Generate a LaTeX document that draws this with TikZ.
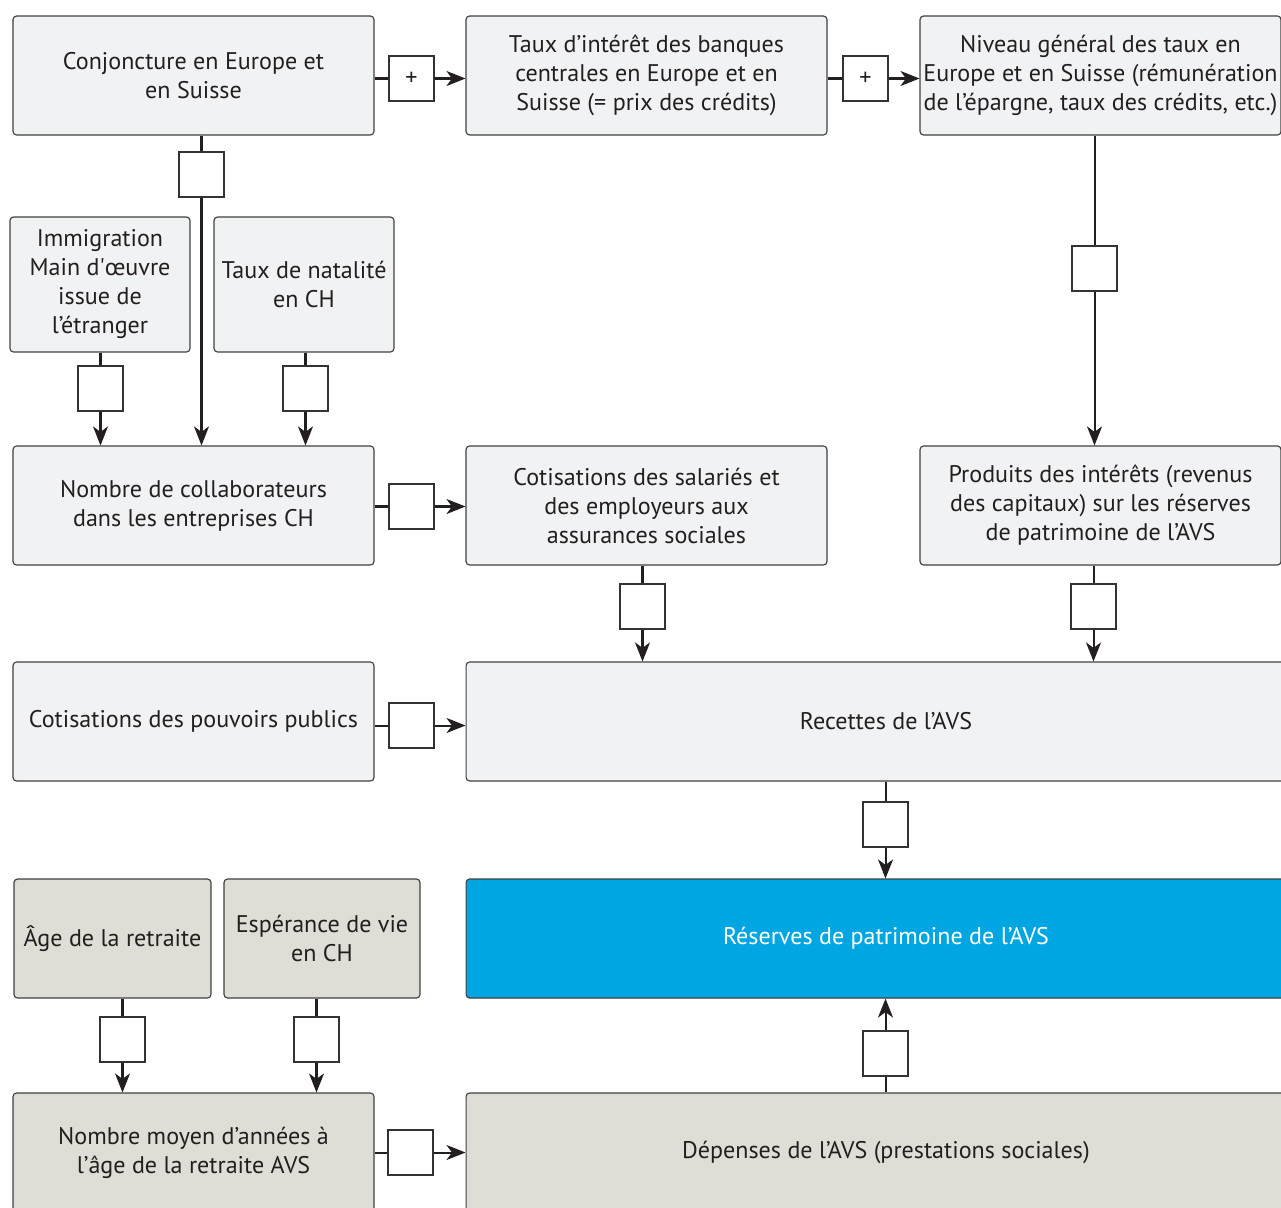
\documentclass[tikz,border=0pt]{standalone}
\usepackage{fontspec}
\setmainfont{PT Sans}
\usetikzlibrary{arrows.meta}
\usetikzlibrary{positioning}
\definecolor{hellgrau}{HTML}{F1F2F3}
\definecolor{beige}{HTML}{DEDDD6}
\definecolor{avsblau}{HTML}{00A6E2}
\definecolor{schrift}{HTML}{231F20}
\tikzset{
  kasten/.style={draw=black!75, line width=0.65pt, rounded corners=2pt, fill=hellgrau, align=center, inner sep=0pt,
    minimum width=7.22cm, minimum height=2.38cm, text=schrift, font=\fontsize{13.7}{16.5}\selectfont},
  kastenb/.style={kasten, fill=beige},
  klein/.style={draw=black!80, line width=0.65pt, fill=white, minimum size=0.9cm, inner sep=0pt, text=schrift, font=\fontsize{13.7}{15}\selectfont},
  linie/.style={line width=1.15pt, draw=schrift},
  pfeil/.style={linie, -{Stealth[length=0.38cm, width=0.3cm, inset=0.11cm]}}
}
\begin{document}
\begin{tikzpicture}[x=0.02cm, y=-0.02cm]
		\useasboundingbox (0,0) rectangle (1281,1207);
		\node[kasten] (conj) at (193.5,75.5) {Conjoncture en Europe et\\en Suisse};
		\node[kasten] (taux) at (646.5,75.5) {Taux d’intérêt des banques\\centrales en Europe et en\\Suisse (= prix des crédits)};
		\node[kasten] (niveau) at (1100.5,75.5) {Niveau général des taux en\\Europe et en Suisse (rémunération\\de l’épargne, taux des crédits, etc.)};
		\node[kasten, minimum width=3.6cm, minimum height=2.7cm] (immig) at (100,284.5) {Immigration\\Main d\textquotesingle œuvre\\issue de\\l’étranger};
		\node[kasten, minimum width=3.6cm, minimum height=2.7cm] (natal) at (304,284.5) {Taux de natalité\\en CH};
		\node[kasten] (collab) at (193.5,505.5) {Nombre de collaborateurs\\dans les entreprises CH};
		\node[kasten] (cotis) at (646.5,505.5) {Cotisations des salariés et\\des employeurs aux\\assurances sociales};
		\node[kasten] (produits) at (1100.5,505.5) {Produits des intérêts (revenus\\des capitaux) sur les réserves\\de patrimoine de l’AVS};
		\node[kasten] (pouvoirs) at (193.5,721.5) {Cotisations des pouvoirs publics};
		\node[kasten, minimum width=16.8cm] (recettes) at (886,721.5) {Recettes de l’AVS};
		\node[kastenb, minimum width=3.94cm] (age) at (112.5,938.5) {Âge de la retraite};
		\node[kastenb, minimum width=3.92cm] (esper) at (322,938.5) {Espérance de vie\\en CH};
		\node[kasten, minimum width=16.8cm, fill=avsblau, text=white] (reserves) at (886,938.5) {Réserves de patrimoine de l’AVS};
		\node[kastenb] (moyen) at (193.5,1152.5) {Nombre moyen d’années à\\l’âge de la retraite AVS};
		\node[kastenb, minimum width=16.8cm] (depenses) at (886,1152.5) {Dépenses de l’AVS (prestations sociales)};

		\node[klein] (k1) at (411.5,78.5) {+};
		\draw[linie] (conj.east |- k1) -- (k1);
		\draw[pfeil] (k1) -- (taux.west |- k1);
		\node[klein] (k2) at (865.5,78.5) {+};
		\draw[linie] (taux.east |- k2) -- (k2);
		\draw[pfeil] (k2) -- (niveau.west |- k2);

		\node[klein] (k3) at (201.5,174.5) {};
		\draw[linie] (conj.south -| k3) -- (k3);
		\draw[pfeil] (k3) -- (collab.north -| k3);
		\node[klein] (k4) at (100.5,388.5) {};
		\draw[linie] (immig.south -| k4) -- (k4);
		\draw[pfeil] (k4) -- (collab.north -| k4);
		\node[klein] (k5) at (305.5,388.5) {};
		\draw[linie] (natal.south -| k5) -- (k5);
		\draw[pfeil] (k5) -- (collab.north -| k5);
		\node[klein] (k6) at (1094.5,268.5) {};
		\draw[linie] (niveau.south -| k6) -- (k6);
		\draw[pfeil] (k6) -- (produits.north -| k6);

		\node[klein] (k7) at (411.5,506.5) {};
		\draw[linie] (collab.east |- k7) -- (k7);
		\draw[pfeil] (k7) -- (cotis.west |- k7);
		\node[klein] (k8) at (642.5,606.5) {};
		\draw[linie] (cotis.south -| k8) -- (k8);
		\draw[pfeil] (k8) -- (recettes.north -| k8);
		\node[klein] (k9) at (1093.5,606.5) {};
		\draw[linie] (produits.south -| k9) -- (k9);
		\draw[pfeil] (k9) -- (recettes.north -| k9);
		\node[klein] (k10) at (411.5,725.5) {};
		\draw[linie] (pouvoirs.east |- k10) -- (k10);
		\draw[pfeil] (k10) -- (recettes.west |- k10);

		\node[klein] (k11) at (885.5,824.5) {};
		\draw[linie] (recettes.south -| k11) -- (k11);
		\draw[pfeil] (k11) -- (reserves.north -| k11);
		\node[klein] (k12) at (885.5,1053.5) {};
		\draw[linie] (depenses.north -| k12) -- (k12);
		\draw[pfeil] (k12) -- (reserves.south -| k12);

		\node[klein] (k13) at (122.5,1039.5) {};
		\draw[linie] (age.south -| k13) -- (k13);
		\draw[pfeil] (k13) -- (moyen.north -| k13);
		\node[klein] (k14) at (316.5,1039.5) {};
		\draw[linie] (esper.south -| k14) -- (k14);
		\draw[pfeil] (k14) -- (moyen.north -| k14);
		\node[klein] (k15) at (410.5,1152.5) {};
		\draw[linie] (moyen.east |- k15) -- (k15);
		\draw[pfeil] (k15) -- (depenses.west |- k15);
\end{tikzpicture}
\end{document}
